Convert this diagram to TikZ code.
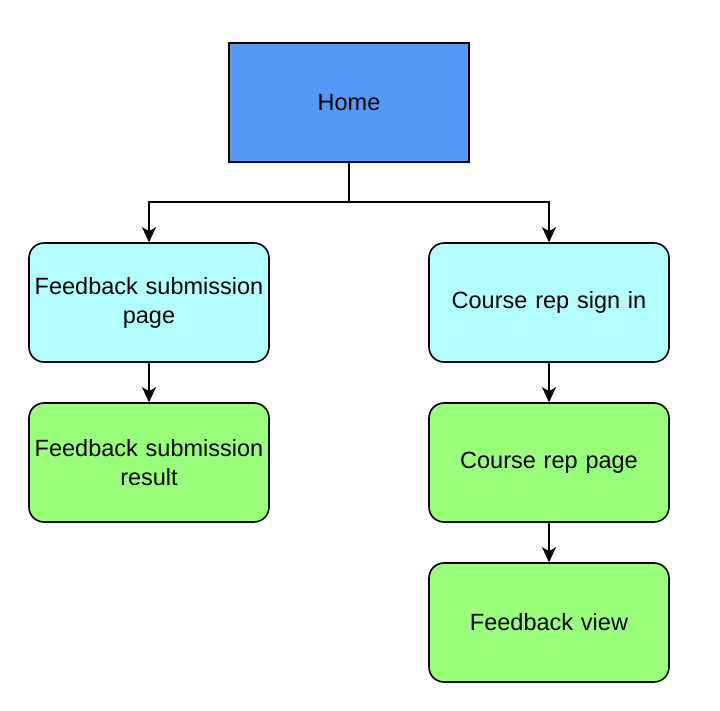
\documentclass[tikz,border=0pt]{standalone}
\usepackage{fontspec}
\setmainfont{Liberation Sans}
\usetikzlibrary{arrows.meta}
\definecolor{homeblue}{RGB}{85,153,248}
\definecolor{lcyan}{RGB}{179,255,255}
\definecolor{lgreen}{RGB}{153,255,122}
\begin{document}
\begin{tikzpicture}[x=1pt,y=-1pt,
  box/.style={draw=black,line width=1.6pt,minimum width=240pt,minimum height=119pt,
    align=center,font=\fontsize{23.5}{29}\selectfont,inner sep=0pt,text width=236pt},
  rbox/.style={box,rounded corners=15pt},
  conn/.style={line width=1.6pt,-{Stealth[length=15pt,width=14pt,inset=4pt]}}]
\useasboundingbox (0,0) rectangle (720,710);
\node[box,fill=homeblue] (home) at (349,102.5) {Home};
\node[rbox,fill=lcyan] (fsp) at (149,302.5) {Feedback submission\\page};
\node[rbox,fill=lgreen] (fsr) at (149,462.5) {Feedback submission\\result};
\node[rbox,fill=lcyan] (crs) at (549,302.5) {Course rep sign in};
\node[rbox,fill=lgreen] (crp) at (549,462.5) {Course rep page};
\node[rbox,fill=lgreen] (fv) at (549,622.5) {Feedback view};
\coordinate (split) at (349,202);
\draw[conn] (home.south) -- (split) -| (fsp.north);
\draw[conn] (split) -| (crs.north);
\draw[conn] (fsp) -- (fsr);
\draw[conn] (crs) -- (crp);
\draw[conn] (crp) -- (fv);
\end{tikzpicture}
\end{document}
